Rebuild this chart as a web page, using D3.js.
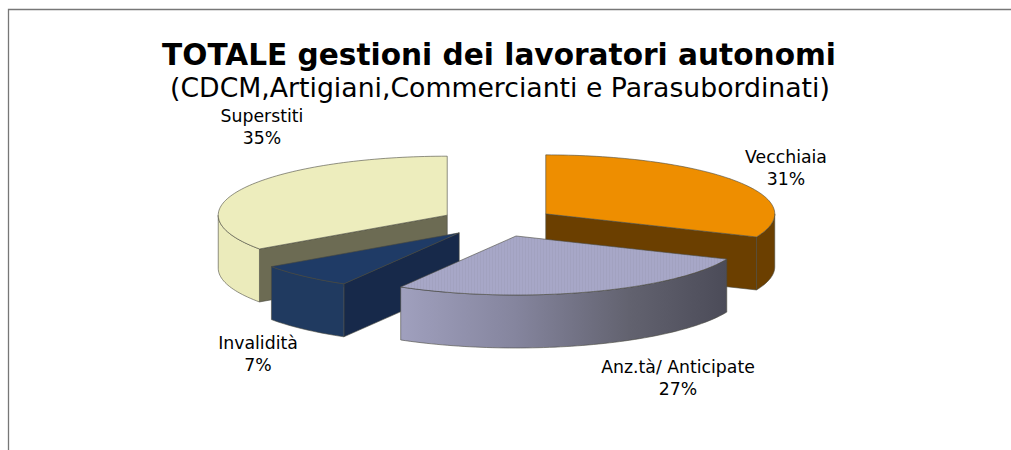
<!DOCTYPE html>
<html><head><meta charset="utf-8">
<script src="https://cdnjs.cloudflare.com/ajax/libs/d3/7.8.5/d3.min.js"></script>
<style>html,body{margin:0;padding:0;background:#fff}svg{display:block}text{font-family:"DejaVu Sans",sans-serif;fill:#000}</style>
</head><body><svg id="c" width="1011" height="450"></svg>
<script>
const categories=["Vecchiaia","Anz.tà/ Anticipate","Invalidità","Superstiti"];
const values=[31.4,27.0,6.9,34.7];
const titleText="TOTALE gestioni dei lavoratori autonomi";
const subtitleText="(CDCM,Artigiani,Commercianti e Parasubordinati)";
const topColors=["#ee8e00","url(#stripeTop)","#1f3b66","#ededbd"];
const rimColors=["#6b3f00","url(#gR)","#203a60","#ebebbb"];
const cutColors=["#6b3f00",null,"#17294a","#6c6b53"];
const labelPos=[[786,157],[678,367],[258,343],[262,116]];
const drawOrder=[3,0,2,1];
const explode=0.25, depth=53;

const svg=d3.select("#c");
const x=d3.scaleLinear().domain([-1,1]).range([269,727]);
const y=d3.scaleLinear().domain([-1,1]).range([281,163]);
const defs=svg.append("defs");
const gR=defs.append("linearGradient").attr("id","gR").attr("gradientUnits","userSpaceOnUse")
  .attr("x1",400).attr("x2",728).attr("y1",0).attr("y2",0);
[[0,"#a0a0be"],[.35,"#85859e"],[.7,"#62626f"],[1,"#4b4b58"]].forEach(s=>gR.append("stop").attr("offset",s[0]).attr("stop-color",s[1]));
const pat=defs.append("pattern").attr("id","stripeTop").attr("patternUnits","userSpaceOnUse").attr("width",3).attr("height",10);
pat.append("rect").attr("width",3).attr("height",10).attr("fill","#a7a7c7");
pat.append("rect").attr("width",1).attr("height",10).attr("fill","#a2a2c0");

svg.append("path").attr("d","M8.5,450V9.5H1011").attr("fill","none").attr("stroke","#777").attr("stroke-width",1.3);

const pie=d3.pie().sort(null)(values);
function pt(a,e,r,dz){ // a is clockwise from the top of the pie
  const m=(e.startAngle+e.endAngle)/2;
  return [x(explode*Math.sin(m)+r*Math.sin(a)), y(explode*Math.cos(m)+r*Math.cos(a))+(dz||0)];
}
function arcPts(a0,a1,e,dz){
  const n=Math.max(2,Math.ceil(Math.abs(a1-a0)*40));
  return d3.range(n+1).map(i=>pt(a0+(a1-a0)*i/n,e,1,dz));
}
const line=d3.line();
const stroke="#4a4a40", sw=.6;
// angle of the cut face that looks toward the viewer, per slice
const cutAngle=[pie[0].endAngle,null,pie[2].startAngle,pie[3].startAngle];
drawOrder.forEach(i=>{
  const e=pie[i], a0=e.startAngle, a1=e.endAngle, g=svg.append("g");
  if(cutColors[i]){
    const c=pt(0,e,0,0),p=pt(cutAngle[i],e,1,0);
    g.append("path").attr("d",line([c,p,[p[0],p[1]+depth],[c[0],c[1]+depth]])+"Z")
      .attr("fill",cutColors[i]).attr("stroke",stroke).attr("stroke-width",sw);
  }
  const r0=Math.max(a0,Math.PI/2), r1=Math.min(a1,Math.PI*1.5);
  if(r1>r0){
    g.append("path").attr("d",line(arcPts(r0,r1,e,0).concat(arcPts(r1,r0,e,depth)))+"Z")
      .attr("fill",rimColors[i]).attr("stroke",stroke).attr("stroke-width",sw);
  }
  g.append("path").attr("d",line([pt(0,e,0,0)].concat(arcPts(a0,a1,e,0)))+"Z")
    .attr("fill",topColors[i]).attr("stroke",stroke).attr("stroke-width",sw);
});
pie.forEach((e,i)=>{
  const t=svg.append("text").attr("text-anchor","middle").attr("font-size",17.3);
  t.append("tspan").attr("x",labelPos[i][0]).attr("y",labelPos[i][1]+6).text(categories[i]);
  t.append("tspan").attr("x",labelPos[i][0]).attr("y",labelPos[i][1]+28).text(Math.round(values[i])+"%");
});
svg.append("text").attr("x",499).attr("y",65).attr("text-anchor","middle").attr("font-size",29.6).attr("font-weight","bold").text(titleText);
svg.append("text").attr("x",500).attr("y",97).attr("text-anchor","middle").attr("font-size",26.7).text(subtitleText);
</script></body></html>
